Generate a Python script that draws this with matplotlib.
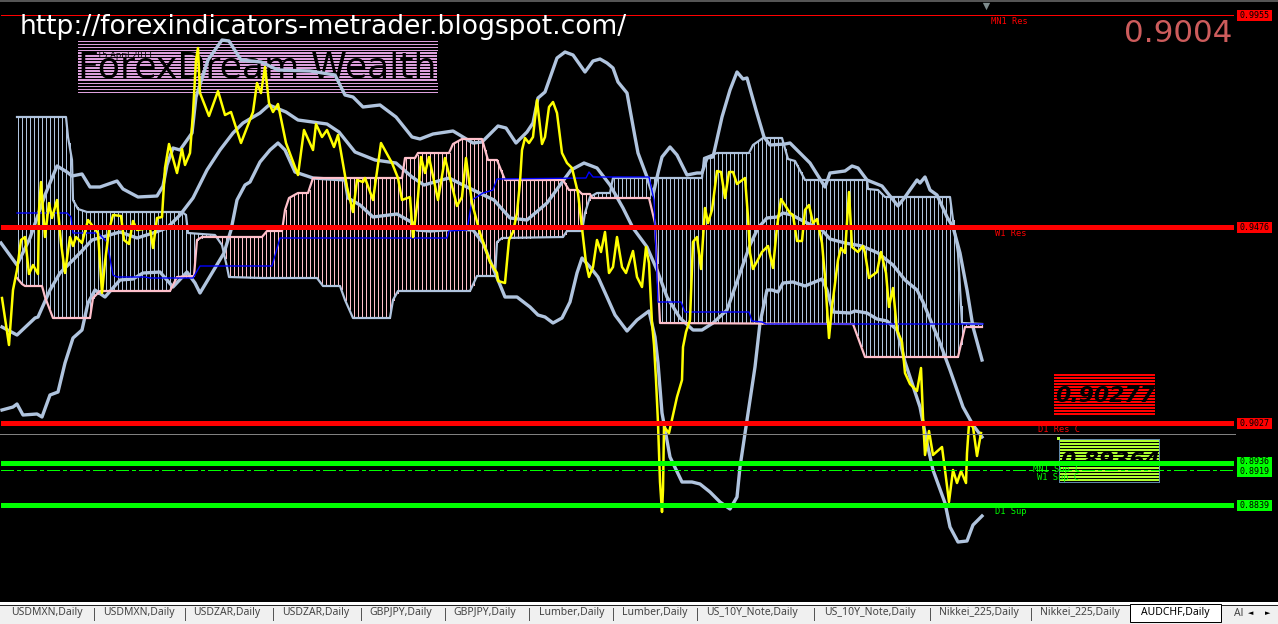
import numpy as np
import matplotlib
matplotlib.use("Agg")
import matplotlib.pyplot as plt
from matplotlib.patches import Rectangle

# All series: column (x) and chart row (y).
upper_x = [1,17,30,45,57,67,72,82,90,100,117,123,138,157,163,167,173,180,192,196,208,222,229,241,261,278,310,335,345,353,363,380,396,412,420,433,453,473,482,498,506,516,527,533,538,545,557,565,573,585,593,600,607,613,618,627,635,638,647,653,658,662,670,677,687,697,702,707,713,722,730,737,743,747,756,764,770,785,790,800,810,825,830,845,852,858,867,882,898,905,917,920,925,930,937,947,953,960,967,973,982]
upper_y = [243,265,238,195,166,172,176,174,187,187,181,189,197,196,186,165,148,150,133,97,60,40,41,60,62,70,71,75,95,97,107,105,117,137,139,134,131,143,142,126,128,143,132,123,98,92,58,52,55,72,61,59,63,68,82,93,137,153,177,195,173,157,147,155,175,173,173,158,157,117,90,72,79,78,110,137,145,144,143,153,163,187,173,171,166,168,180,186,206,197,180,183,177,190,195,217,227,253,290,327,360]

middle_x = [2,17,35,38,50,60,80,92,120,137,153,167,180,193,207,220,233,243,260,269,286,298,327,339,355,375,396,412,424,449,469,494,510,527,547,571,584,597,610,623,633,647,657,667,680,693,702,713,727,740,750,758,767,777,783,792,805,822,830,845,862,878,893,905,917,923,940,950,963,973,982]
middle_y = [327,335,318,317,290,273,253,240,232,238,233,228,215,198,170,150,133,123,113,105,112,120,124,132,152,160,163,177,185,178,188,200,218,220,203,170,163,168,185,208,228,247,270,297,318,330,330,323,310,273,245,228,218,217,213,215,222,230,239,243,246,253,265,280,290,302,343,370,407,425,437]

lower_x = [2,13,17,23,37,42,50,58,65,73,82,88,95,105,120,133,143,160,173,187,195,200,224,231,237,245,250,260,270,278,285,295,313,345,348,360,373,397,413,417,430,457,473,483,498,505,517,530,538,545,553,562,570,577,582,590,598,607,615,627,637,649,655,658,662,670,682,692,700,710,720,730,737,740,747,755,760,767,772,778,783,793,805,822,827,833,850,855,867,877,887,897,905,920,927,933,945,950,958,967,973,982]
lower_y = [410,407,404,415,414,417,395,392,363,338,330,303,290,297,280,279,273,272,287,272,283,293,253,230,200,185,182,162,150,143,150,172,178,180,198,205,217,214,223,230,231,229,230,243,280,297,297,307,315,317,323,318,302,273,258,267,277,297,315,331,320,311,337,363,413,457,482,482,484,492,502,509,497,467,420,367,323,290,290,292,283,282,286,279,290,312,313,311,313,319,321,330,362,407,443,470,503,527,542,541,525,516]

span_pink_x = [17,22,25,42,45,53,90,93,100,170,177,194,197,202,262,267,282,285,289,298,308,313,317,402,405,415,418,449,453,462,482,488,497,505,563,569,578,582,590,592,649,655,660,853,865,958,965,982]
span_pink_y = [278,284,286,286,297,318,318,298,291,291,277,276,240,237,237,231,231,210,198,193,193,178,178,178,158,158,153,153,144,139,139,160,160,180,180,190,190,194,194,198,198,223,323,324,357,357,327,327]

span_gray_x = [17,66,68,72,73,78,87,182,186,188,215,222,227,229,262,317,323,340,345,353,390,393,398,470,477,495,497,502,563,567,582,585,590,597,610,613,702,704,717,749,753,763,782,788,795,805,867,868,878,885,950,953,958,962,982]
span_gray_y = [117,117,137,160,200,209,212,212,215,233,235,245,267,277,278,278,286,286,300,318,318,300,291,291,276,276,242,238,237,231,231,213,197,193,193,178,178,158,153,153,145,138,138,159,161,180,180,189,190,197,197,220,253,323,324]

kijun_x = [17,67,71,73,98,107,113,117,145,150,193,200,272,280,447,449,467,472,483,493,497,586,589,593,649,654,658,681,685,749,752,762,766,983]
kijun_y = [213,213,217,233,233,242,275,277,277,278,278,266,266,238,238,231,230,200,193,190,179,178,172,177,177,200,302,302,312,312,321,322,324,324]

close_x = [2,9,13,17,21,25,29,33,38,39,41,45,49,52,57,61,65,70,73,76,82,88,98,102,105,109,113,121,124,129,133,137,150,153,157,162,165,169,177,182,185,190,193,196,198,200,209,218,225,231,241,253,257,261,265,269,273,278,286,298,304,313,316,322,327,334,338,347,353,357,363,365,373,381,392,398,402,410,413,418,421,425,429,438,445,457,462,466,472,480,490,497,498,505,509,513,517,520,522,525,529,533,537,542,545,549,553,557,562,567,572,578,583,586,589,593,597,601,605,609,613,617,622,626,633,637,642,646,649,652,654,656,658,660,662,663,664,669,677,682,683,686,690,692,693,697,701,705,708,712,717,721,725,729,733,737,745,748,750,753,762,768,773,777,781,790,793,797,802,805,809,813,817,822,825,829,832,838,841,845,849,852,858,863,865,869,877,881,886,889,893,897,902,905,910,917,921,923,925,929,933,942,945,949,953,957,961,966,967,969,973,977,981]
close_y = [298,345,290,270,240,237,274,265,274,210,182,237,203,218,200,243,273,237,246,237,243,220,233,293,262,230,215,216,240,244,221,230,228,248,218,217,168,144,173,149,165,153,113,60,48,93,116,91,115,112,143,112,83,93,67,103,112,104,143,175,130,150,124,137,130,147,135,187,212,180,182,178,200,143,163,178,200,197,237,197,157,173,157,200,158,206,197,158,203,233,262,273,281,283,240,232,213,182,150,138,143,137,100,144,137,107,102,113,153,163,168,193,237,263,277,267,240,252,232,273,267,237,267,273,251,277,287,247,263,323,345,380,423,482,512,490,427,433,397,380,347,332,320,267,242,237,269,208,223,210,171,172,198,172,172,184,178,217,253,269,252,246,268,227,199,213,215,241,241,210,205,223,219,243,277,338,307,260,248,253,192,247,252,246,253,278,272,252,273,307,288,330,342,373,384,391,368,417,455,431,455,447,470,502,470,483,471,483,453,424,427,456,433]

level_rows = [15, 227, 423, 463, 470, 505]
level_values = ["0.9955", "0.9476", "0.9027", "0.8936", "0.8919", "0.8839"]
level_colors = ["#FF0000", "#FF0000", "#FF0000", "#00FF00", "#00FF00", "#00FF00"]
level_widths = [1, 5, 5, 5, 1, 5]
level_styles = ["-", "-", "-", "-", "-.", "-"]
label_rows = [15, 227, 423, 462, 471, 505]
level_names = ["MN1 Res", "W1 Res", "D1 Res C", "MN1 Sup C", "W1 Sup C", "D1 Sup"]
name_x = [991, 995, 1038, 1033, 1037, 995]
name_y = [22, 233, 430, 469, 477, 512]

tab_names = ["USDMXN,Daily", "USDMXN,Daily", "USDZAR,Daily", "USDZAR,Daily", "GBPJPY,Daily", "GBPJPY,Daily",
             "Lumber,Daily", "Lumber,Daily", "US_10Y_Note,Daily", "US_10Y_Note,Daily",
             "Nikkei_225,Daily", "Nikkei_225,Daily", "AUDCHF,Daily", "Al"]
tab_x = [11, 103, 193, 282, 369, 453, 539, 622, 706, 824, 939, 1040, 1141, 1234]
tab_sep = [93, 184, 272, 360, 444, 528, 612, 696, 813, 929, 1030]

GRAY = "#B0C4DE"
PINK = "#FFC0CB"
PX = 0.72  # points per pixel at dpi 100

fig = plt.figure(figsize=(12.78, 6.24), dpi=100, facecolor="black")
ax = fig.add_axes([0, 0, 1, 1])
ax.set_xlim(0, 1278)
ax.set_ylim(624, 0)
ax.axis("off")
ax.add_patch(Rectangle((0, 0), 1278, 624, fc="black", ec="none", zorder=0))
ax.add_patch(Rectangle((0, 0), 1278, 1.5, fc="#555555", ec="none", zorder=1))

# striped text plates
for r in np.arange(40, 92, 3):
    w = 2 if 50 <= r < 82 else 1
    ax.hlines(r + .5, 78, 437, color="#DDA0DD", lw=w * PX, antialiased=False, zorder=1)
ax.text(78, 68, "ForexDream Wealth", color="black", fontsize=26.2, va="center", ha="left", zorder=1.5)
ax.text(97, 55, "15 April 2011", color="black", fontsize=6, va="center", ha="left", zorder=1.5)
for r in np.arange(374, 416, 3):
    ax.hlines(r + .5, 1054, 1155, color="#FF0000", lw=1.5 * PX, antialiased=False, zorder=1)
ax.text(1055, 396, "0.90277", color="black", fontsize=15.8, style="italic", weight="bold", va="center", ha="left", zorder=1.5)
for r in np.arange(440, 482, 3):
    ax.hlines(r + .5, 1059, 1159, color="#ADFF2F", lw=1.5 * PX, antialiased=False, zorder=1)
ax.text(1060, 461, "0.89364", color="black", fontsize=15.8, style="italic", weight="bold", va="center", ha="left", zorder=1.5)
ax.add_patch(Rectangle((1059, 439), 100, 43, fc="none", ec="#5F87A8", lw=PX, antialiased=False, zorder=1.6))
ax.add_patch(Rectangle((1056.5, 436.5), 3, 3, fc="#ADFF2F", ec="none", zorder=1.7))

# cloud hatch
bars = np.arange(17, 983, 4)
a = np.interp(bars, span_pink_x, span_pink_y)
b = np.interp(bars, span_gray_x, span_gray_y)
gray_up = b < a
ax.vlines(bars[gray_up] + .5, b[gray_up], a[gray_up], color=GRAY, lw=PX, antialiased=False, zorder=2)
ax.vlines(bars[~gray_up] + .5, a[~gray_up], b[~gray_up], color=PINK, lw=PX, antialiased=False, zorder=2)

ax.plot(upper_x, upper_y, color=GRAY, lw=2.4, zorder=3)
ax.plot(middle_x, middle_y, color=GRAY, lw=2.4, zorder=3)
ax.plot(lower_x, lower_y, color=GRAY, lw=2.4, zorder=3)
ax.plot(span_gray_x, span_gray_y, color=GRAY, lw=1.6, zorder=3.1)
ax.plot(span_pink_x, span_pink_y, color=PINK, lw=1.6, zorder=3.1)
ax.plot(kijun_x, kijun_y, color="#0000FF", lw=1.0, zorder=3.3)
ax.plot(close_x, close_y, color="#FFFF00", lw=1.8, zorder=3.4)

# levels
ax.hlines(433.5, 0, 1235, color="#808080", lw=PX, antialiased=False, zorder=3.6)
for r, v, c, w, s, lr, n, nx, ny in zip(level_rows, level_values, level_colors, level_widths, level_styles,
                                         label_rows, level_names, name_x, name_y):
    ax.plot([1, 1233], [r, r], color=c, lw=w * PX, ls=s if s == "-" else (0, (12, 3, 3, 3)),
            solid_capstyle="butt", antialiased=False, zorder=4)
    ax.add_patch(Rectangle((1237, lr - 5.5), 35, 11, fc=c, ec="none", zorder=4))
    ax.text(1254.5, lr, v, color="black", family="DejaVu Sans Mono", fontsize=6, va="center", ha="center", zorder=5)
    ax.text(nx, ny, n, color=c, family="DejaVu Sans Mono", fontsize=6.3, va="center", ha="left", zorder=5)

ax.scatter([986], [6], marker="v", s=28, color="#7F8C8D", linewidths=0, zorder=5)
ax.text(1124, 33.5, "0.9004", color="#CD5C5C", fontsize=22.3, va="center", ha="left", zorder=5)
ax.text(20, 27, "http://forexindicators-metrader.blogspot.com/", color="white", fontsize=19.1, va="center", ha="left", zorder=6)

# tab bar
ax.add_patch(Rectangle((0, 602), 1278, 3, fc="white", ec="none", zorder=7))
ax.add_patch(Rectangle((0, 605), 1278, 19, fc="#F0F0F0", ec="none", zorder=7))
ax.hlines(604.5, 0, 1278, color="#222222", lw=PX, antialiased=False, zorder=7.1)
ax.vlines(np.array(tab_sep) + .5, 608, 620, color="#555555", lw=PX, antialiased=False, zorder=7.1)
ax.add_patch(Rectangle((1130, 604), 91, 18, fc="white", ec="black", lw=PX, zorder=7.2))
for x, t in zip(tab_x, tab_names):
    ax.text(x, 613, t, color="black" if t == "AUDCHF,Daily" else "#444444", family="Noto Sans", fontsize=7.5,
            va="center", ha="left", zorder=8)
ax.text(1251, 613, "\u25C4", color="black", fontsize=5, va="center", ha="center", zorder=8)
ax.text(1268, 613, "\u25BA", color="black", fontsize=5, va="center", ha="center", zorder=8)

fig.savefig("out.png", dpi=100, facecolor="black")
